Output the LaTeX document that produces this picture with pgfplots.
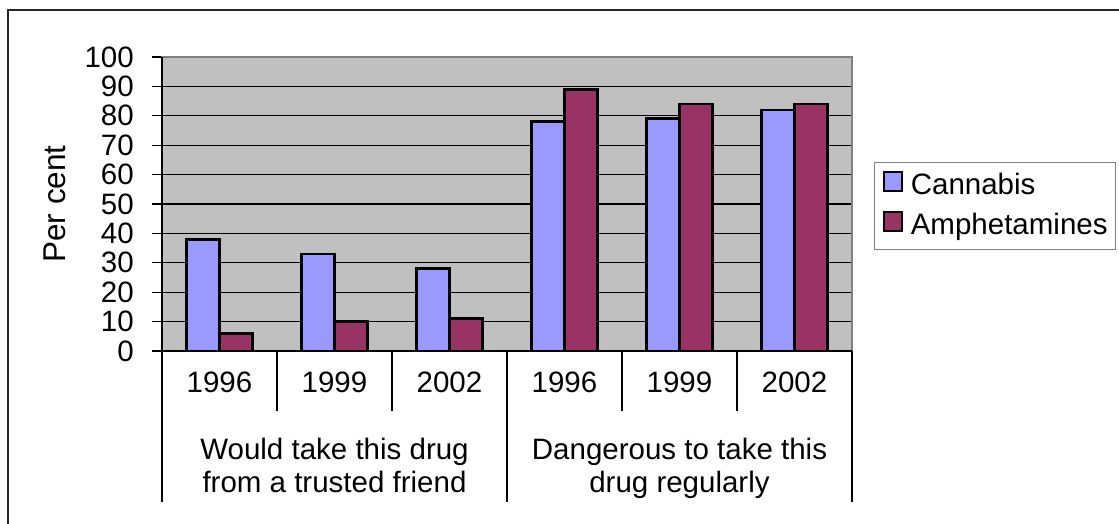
\documentclass[border=0pt]{standalone}
\usepackage{fontspec}
\setmainfont{Liberation Sans}
\usepackage{pgfplots}
\pgfplotsset{compat=1.18}

\definecolor{cannabis}{HTML}{9999FF}
\definecolor{amph}{HTML}{993366}
\definecolor{plotbg}{HTML}{C0C0C0}
\definecolor{frame}{HTML}{808080}

\newcommand{\chartfont}{\fontsize{29.5}{33}\selectfont}

\begin{document}
\begin{tikzpicture}[x=1pt,y=1pt]
\useasboundingbox (0,0) rectangle (1119,523);
% chart area frame (left and top edges)
\draw[line width=2pt, black!85] (8,-2) -- (8,513) -- (1121,513);

\begin{axis}[
  at={(162pt,172pt)}, anchor=south west,
  width=690pt, height=294pt, scale only axis,
  xmin=0, xmax=6, ymin=0, ymax=100,
  clip=false,
  ybar=0pt, bar width=33pt,
  axis background/.style={fill=plotbg},
  axis line style={draw=frame, line width=1.3pt},
  ymajorgrids,
  major grid style={black, line width=1.2pt},
  ytick={0,10,...,100},
  ytick pos=left,
  tick align=outside,
  major tick length=10pt,
  ytick style={black, line width=1.2pt},
  xtick={0.5,1.5,...,5.5},
  xticklabels={1996,1999,2002,1996,1999,2002},
  xtick style={draw=none},
  /pgf/number format/assume math mode=true,
  tick label style={font=\chartfont},
  yticklabel style={anchor=east, inner sep=0pt, xshift=-18pt},
  xticklabel style={anchor=base, inner sep=0pt, yshift=-31pt},
  ylabel={Per cent},
  ylabel style={font=\fontsize{31.5}{35}\selectfont, at={(rel axis cs:-0.155,0.5)}, anchor=center},
  legend style={
    at={(rel axis cs:1.0319,0.644)}, anchor=north west,
    draw=frame, line width=1.2pt, fill=white,
    font=\chartfont,
    inner xsep=8pt, inner ysep=6pt,
    row sep=5pt,
    nodes={inner sep=0pt, text height=26pt, text depth=9pt},
    /tikz/every odd column/.append style={column sep=8pt},
  },
  legend cell align=left,
  legend image code/.code={\draw[#1, line width=2.2pt] (0pt,-5pt) rectangle (18pt,14pt);},
]
\addplot[fill=cannabis, draw=black, line width=2.6pt]
  coordinates {(0.5,38) (1.5,33) (2.5,28) (3.5,78) (4.5,79) (5.5,82)};
\addplot[fill=amph, draw=black, line width=2.6pt]
  coordinates {(0.5,6) (1.5,10) (2.5,11) (3.5,89) (4.5,84) (5.5,84)};
\legend{Cannabis, Amphetamines}

% value and category axes in black
\draw[black, line width=1.3pt] (rel axis cs:0,0) -- (rel axis cs:0,1);
\draw[black, line width=1.3pt] (rel axis cs:0,0) -- (rel axis cs:1,0);

% year separators and group separators below the category axis
\pgfplotsinvokeforeach{1,2,4,5}{
  \draw[black, line width=1.2pt] (axis cs:#1,0) -- ++(0,-60pt);
}
\pgfplotsinvokeforeach{0,3,6}{
  \draw[black, line width=1.2pt] (axis cs:#1,0) -- ++(0,-151pt);
}

% group captions
\node[font=\chartfont, align=center, anchor=north, inner sep=0pt]
  at (axis cs:1.5,0) [yshift=-87pt] {Would take this drug\\from a trusted friend};
\node[font=\chartfont, align=center, anchor=north, inner sep=0pt]
  at (axis cs:4.5,0) [yshift=-87pt] {Dangerous to take this\\drug regularly};
\end{axis}
\end{tikzpicture}
\end{document}
